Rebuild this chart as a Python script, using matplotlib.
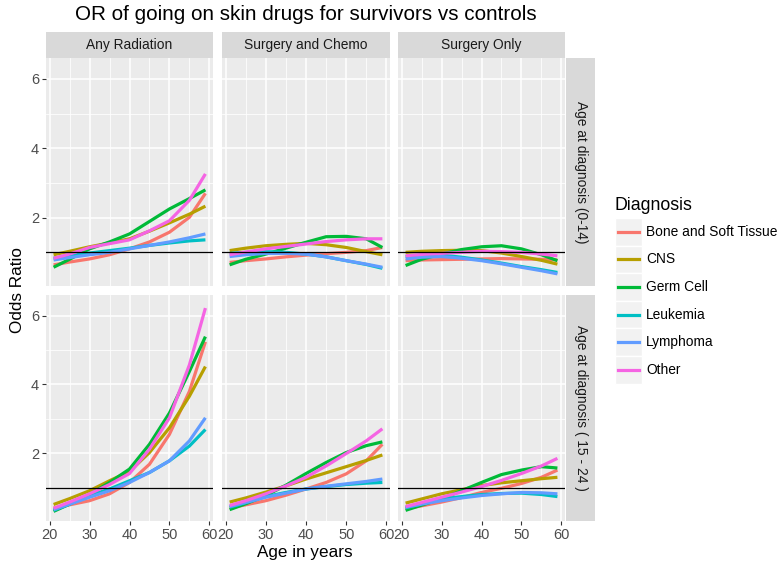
import numpy as np
import matplotlib
matplotlib.use("Agg")
import matplotlib.pyplot as plt
from matplotlib.patches import Rectangle
from matplotlib.lines import Line2D

plt.rcParams['font.family'] = ['Liberation Sans', 'DejaVu Sans']

# ---- data ----
ages = [21, 25, 30, 35, 40, 45, 50, 55, 59]
treatments = ['Any Radiation', 'Surgery and Chemo', 'Surgery Only']
age_groups = ['Age at diagnosis (0-14)', 'Age at diagnosis ( 15 - 24 )']
diagnoses = ['Bone and Soft Tissue', 'CNS', 'Germ Cell', 'Leukemia', 'Lymphoma', 'Other']
colors = ['#F8766D', '#B79F00', '#00BA38', '#00BFC4', '#619CFF', '#F564E3']

# odds ratios, age group 0-14
young_radiation = [
    [0.64, 0.72, 0.81, 0.93, 1.10, 1.30, 1.58, 2.01, 2.70],
    [0.93, 1.03, 1.16, 1.27, 1.39, 1.61, 1.85, 2.10, 2.33],
    [0.57, 0.80, 1.10, 1.30, 1.53, 1.89, 2.25, 2.55, 2.80],
    [0.83, 0.90, 0.98, 1.05, 1.12, 1.20, 1.27, 1.33, 1.36],
    [0.78, 0.85, 0.93, 1.00, 1.10, 1.20, 1.30, 1.42, 1.53],
    [0.83, 0.95, 1.14, 1.25, 1.36, 1.62, 1.91, 2.50, 3.26],
]
young_chemo = [
    [0.71, 0.76, 0.81, 0.87, 0.92, 0.96, 1.00, 1.05, 1.14],
    [1.05, 1.12, 1.19, 1.23, 1.26, 1.22, 1.14, 1.02, 0.93],
    [0.64, 0.80, 0.95, 1.12, 1.29, 1.45, 1.46, 1.39, 1.14],
    [0.97, 1.00, 1.02, 1.00, 0.95, 0.87, 0.76, 0.65, 0.54],
    [0.88, 0.93, 0.97, 0.97, 0.95, 0.87, 0.76, 0.66, 0.57],
    [0.93, 1.01, 1.10, 1.17, 1.24, 1.31, 1.36, 1.39, 1.39],
]
young_surgery = [
    [0.76, 0.78, 0.79, 0.80, 0.81, 0.82, 0.81, 0.80, 0.78],
    [1.00, 1.03, 1.05, 1.06, 1.05, 0.98, 0.88, 0.77, 0.66],
    [0.62, 0.80, 0.95, 1.08, 1.16, 1.19, 1.10, 0.93, 0.76],
    [0.88, 0.91, 0.92, 0.86, 0.78, 0.69, 0.59, 0.50, 0.42],
    [0.81, 0.86, 0.88, 0.83, 0.76, 0.67, 0.57, 0.47, 0.38],
    [0.90, 0.94, 0.97, 1.00, 1.03, 1.02, 1.00, 0.95, 0.90],
]
# odds ratios, age group 15-24
older_radiation = [
    [0.40, 0.50, 0.62, 0.82, 1.15, 1.68, 2.55, 3.80, 5.24],
    [0.51, 0.68, 0.91, 1.20, 1.47, 2.02, 2.74, 3.66, 4.52],
    [0.31, 0.52, 0.80, 1.15, 1.54, 2.26, 3.17, 4.38, 5.39],
    [0.34, 0.52, 0.77, 0.96, 1.20, 1.44, 1.78, 2.21, 2.69],
    [0.36, 0.52, 0.72, 0.91, 1.15, 1.44, 1.78, 2.36, 3.03],
    [0.40, 0.58, 0.82, 1.09, 1.41, 2.12, 3.03, 4.57, 6.22],
]
older_chemo = [
    [0.41, 0.50, 0.62, 0.78, 0.96, 1.15, 1.40, 1.78, 2.26],
    [0.58, 0.70, 0.87, 1.05, 1.25, 1.43, 1.61, 1.79, 1.95],
    [0.36, 0.53, 0.77, 1.07, 1.41, 1.73, 2.02, 2.22, 2.33],
    [0.43, 0.56, 0.74, 0.86, 0.96, 1.03, 1.09, 1.13, 1.15],
    [0.45, 0.57, 0.72, 0.84, 0.96, 1.04, 1.11, 1.18, 1.25],
    [0.48, 0.62, 0.82, 1.05, 1.30, 1.63, 1.99, 2.36, 2.71],
]
older_surgery = [
    [0.39, 0.47, 0.58, 0.71, 0.86, 0.98, 1.12, 1.30, 1.51],
    [0.55, 0.67, 0.82, 0.94, 1.06, 1.14, 1.20, 1.26, 1.30],
    [0.34, 0.49, 0.67, 0.91, 1.15, 1.38, 1.51, 1.61, 1.57],
    [0.41, 0.53, 0.67, 0.74, 0.80, 0.83, 0.84, 0.80, 0.74],
    [0.43, 0.52, 0.62, 0.70, 0.77, 0.82, 0.86, 0.85, 0.82],
    [0.45, 0.57, 0.72, 0.87, 1.03, 1.21, 1.41, 1.63, 1.85],
]
panels = [[young_radiation, young_chemo, young_surgery],
          [older_radiation, older_chemo, older_surgery]]

# ---- layout (pixels) ----
W, H = 779, 569
def box(l, t, r, b):
    return [l / W, 1 - b / H, (r - l) / W, (b - t) / H]

col_px = [(46, 213), (222, 390), (398, 565)]
row_px = [(58, 286), (295, 521)]
strip_bg = '#D9D9D9'
panel_bg = '#EBEBEB'

fig = plt.figure(figsize=(W / 100, H / 100), dpi=100)

for i, (t, b) in enumerate(row_px):
    for j, (l, r) in enumerate(col_px):
        ax = fig.add_axes(box(l, t, r, b))
        ax.set_facecolor(panel_bg)
        for s in ax.spines.values():
            s.set_visible(False)
        ax.set_xlim(19.1, 60.9)
        ax.set_ylim(0.03, 6.6)
        ax.set_xticks([20, 30, 40, 50, 60])
        ax.set_xticks([25, 35, 45, 55], minor=True)
        ax.set_yticks([2, 4, 6])
        ax.set_yticks([1, 3, 5], minor=True)
        ax.grid(True, which='major', color='white', lw=1.1)
        ax.grid(True, which='minor', color='white', lw=0.55)
        ax.set_axisbelow(True)
        ax.tick_params(which='minor', length=0)
        ax.tick_params(which='major', color='#333333', length=3, width=0.8,
                       labelcolor='#4D4D4D', labelsize=10.5, pad=2)
        if j != 0:
            ax.tick_params(axis='y', length=0, labelleft=False)
        if i != 1:
            ax.tick_params(axis='x', length=0, labelbottom=False)
        for k, series in enumerate(panels[i][j]):
            ax.plot(ages, series, color=colors[k], lw=2.3, solid_capstyle='butt')
        ax.axhline(1, color='black', lw=0.9)

        if i == 0:
            sax = fig.add_axes(box(l, 32, r, 58))
            sax.set_facecolor(strip_bg)
            sax.set_xticks([]); sax.set_yticks([])
            for s in sax.spines.values():
                s.set_visible(False)
            sax.text(0.5, 0.5, treatments[j], ha='center', va='center',
                     fontsize=9.9, color='#1A1A1A', transform=sax.transAxes)
    rax = fig.add_axes(box(566, t, 595, b))
    rax.set_facecolor(strip_bg)
    rax.set_xticks([]); rax.set_yticks([])
    for s in rax.spines.values():
        s.set_visible(False)
    rax.text(0.5, 0.5, age_groups[i], ha='center', va='center', rotation=-90,
             fontsize=9.9, color='#1A1A1A', transform=rax.transAxes)

fig.text(306 / W, 1 - 15 / H, 'OR of going on skin drugs for survivors vs controls',
         ha='center', va='center', fontsize=14.9)
fig.text(305 / W, 1 - 553 / H, 'Age in years', ha='center', va='center', fontsize=12.3)
fig.text(18 / W, 1 - 290 / H, 'Odds Ratio', ha='center', va='center',
         rotation=90, fontsize=12.3)

# legend
fig.text(615 / W, 1 - 205 / H, 'Diagnosis', ha='left', va='center', fontsize=12.8)
key_top = 218
key_h = 27.6
for k, name in enumerate(diagnoses):
    t = key_top + k * key_h
    fig.patches.append(Rectangle((615 / W, 1 - (t + key_h) / H), 27 / W, key_h / H,
                                 transform=fig.transFigure, facecolor='#F2F2F2',
                                 edgecolor='white', lw=1))
    yc = 1 - (t + key_h / 2) / H
    fig.lines.append(Line2D([618 / W, 639 / W], [yc, yc], transform=fig.transFigure,
                            color=colors[k], lw=2.3))
    fig.text(646 / W, yc, name, ha='left', va='center', fontsize=9.9)

fig.savefig('out.png', dpi=100)
